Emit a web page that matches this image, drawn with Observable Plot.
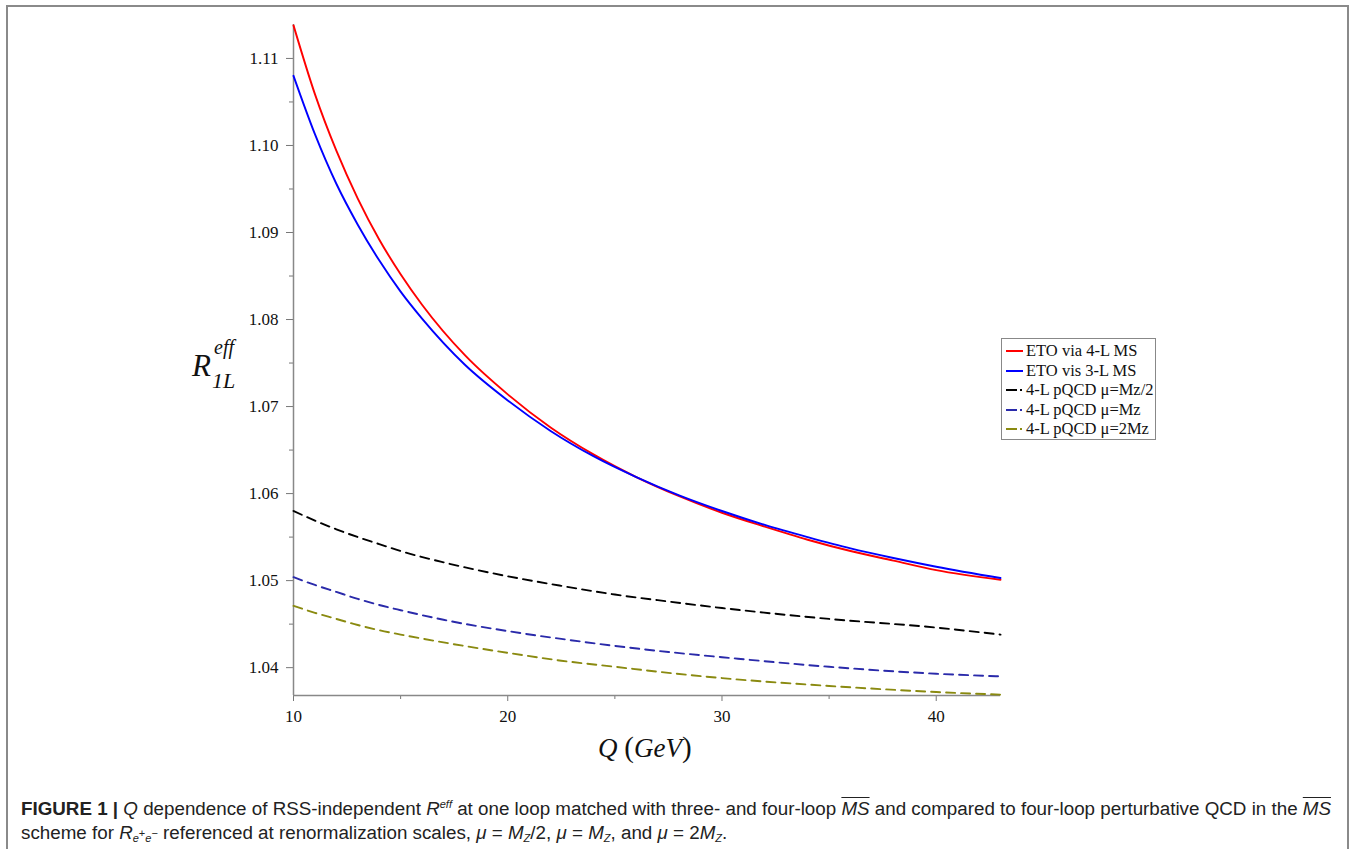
<!DOCTYPE html>
<html>
<head>
<meta charset="utf-8">
<script src="https://cdn.jsdelivr.net/npm/d3@7"></script>
<script src="https://cdn.jsdelivr.net/npm/@observablehq/plot@0.6"></script>
<style>
  html, body { margin: 0; padding: 0; background: #fff; }
  #page { position: relative; width: 1354px; height: 849px; overflow: hidden; background: #fff; }
  #frame { position: absolute; left: 6px; top: 5px; width: 1343px; height: 870px; border: 2px solid #8a8a8a; box-sizing: border-box; }
  #chart { position: absolute; left: 0; top: 0; }
  .serif { font-family: "Liberation Serif", "DejaVu Serif", serif; color: #111; }
  #ytitle { position: absolute; left: 192px; top: 350px; font-size: 31px; font-style: italic; line-height: 1; }
  #ytitle .sup { position: absolute; left: 22px; top: -13px; font-size: 20px; }
  #ytitle .sub { position: absolute; left: 20px; top: 20px; font-size: 22px; }
  #xtitle { position: absolute; left: 598px; top: 731px; font-size: 27px; white-space: nowrap; }
  #legend { position: absolute; left: 1001px; top: 338px; width: 155px; height: 102px; border: 1.5px solid #888; box-sizing: border-box; font-size: 16.5px; }
  #legend .row { position: absolute; left: 3px; height: 18px; white-space: nowrap; }
  #legend svg { position: absolute; left: 0; top: 0; }
  #legend span { position: absolute; left: 21px; top: 0px; line-height: 18px; }
  #caption { position: absolute; left: 21px; top: 797px; font-family: "Liberation Sans", Arial, sans-serif; font-size: 18.8px; line-height: 24px; color: #222; white-space: nowrap; }
  .ov { text-decoration: overline; }
  #caption sub, #caption sup { font-size: 11px; line-height: 0; }
  #caption sub { vertical-align: -3px; }
</style>
</head>
<body>
<div id="page">
  <div id="frame"></div>
  <div id="chart"></div>
  <div id="ytitle" class="serif">R<span class="sup">eff</span><span class="sub">1L</span></div>
  <div id="xtitle" class="serif"><i>Q</i> <span style="font-size:29px">(</span><i>GeV</i><span style="font-size:29px">)</span></div>
  <div id="legend" class="serif"></div>
  <div id="caption"><b>FIGURE 1 |</b> <i>Q</i> dependence of RSS-independent <i>R</i><sup><i>eff</i></sup> at one loop matched with three- and four-loop <i class="ov">MS</i> and compared to four-loop perturbative QCD in the <i class="ov">MS</i><br>scheme for <i>R</i><sub><i>e</i><sup>+</sup><i>e</i><sup>−</sup></sub> referenced at renormalization scales, <i>μ</i> = <i>M</i><sub><i>Z</i></sub>/2, <i>μ</i> = <i>M</i><sub><i>Z</i></sub>, and <i>μ</i> = 2<i>M</i><sub><i>Z</i></sub>.</div>
</div>
<script>
// ---- data ----
const qEto = [10, 11, 12, 13, 14, 15, 16, 18, 20, 22, 24, 26, 28, 30, 32, 34, 36, 38, 40, 43];
const etoVia4L = [1.1138, 1.1059, 1.0994, 1.0939, 1.0892, 1.0852, 1.0817, 1.0759, 1.0714, 1.0676, 1.0645, 1.0619, 1.0597, 1.0578, 1.0562, 1.0547, 1.0534, 1.0523, 1.0512, 1.0501];
const etoVis3L = [1.1080, 1.1013, 1.0956, 1.0909, 1.0868, 1.0832, 1.0801, 1.0748, 1.0707, 1.0672, 1.0643, 1.0619, 1.0598, 1.0580, 1.0564, 1.0550, 1.0537, 1.0526, 1.0516, 1.0503];
const qPqcd = [10, 11, 12, 13, 14, 15, 17, 20, 22.5, 25, 27.5, 30, 35, 40, 43];
const pqcdHalfMz = [1.0580, 1.0569, 1.0559, 1.0550, 1.0542, 1.0534, 1.0521, 1.0505, 1.0494, 1.0484, 1.0476, 1.04685, 1.0456, 1.0446, 1.0438];
const pqcdMz     = [1.0504, 1.0495, 1.0487, 1.0479, 1.0472, 1.0466, 1.0455, 1.0442, 1.0433, 1.0425, 1.0418, 1.0412, 1.0401, 1.0393, 1.0390];
const pqcd2Mz    = [1.0471, 1.0463, 1.0456, 1.0449, 1.0443, 1.0438, 1.0429, 1.0417, 1.0408, 1.0401, 1.0394, 1.0388, 1.0379, 1.0372, 1.0369];
const seriesNames = ["ETO via 4-L MS", "ETO vis 3-L MS", "4-L pQCD μ=Mz/2", "4-L pQCD μ=Mz", "4-L pQCD μ=2Mz"];
const seriesColors = ["#ff0000", "#0000ff", "#000000", "#2a2aaa", "#8a8a10"];
const seriesDashed = [false, false, true, true, true];
const xMajor = [10, 20, 30, 40];
const xMinor = [15, 25, 35];
const yMajor = [1.04, 1.05, 1.06, 1.07, 1.08, 1.09, 1.10, 1.11];
const yMinor = [1.045, 1.055, 1.065, 1.075, 1.085, 1.095, 1.105];
const xDomain = [10, 43];
const yDomain = [1.0368, 1.1139];

const seriesData = [
  qEto.map((q, i) => ({q, v: etoVia4L[i]})),
  qEto.map((q, i) => ({q, v: etoVis3L[i]})),
  qPqcd.map((q, i) => ({q, v: pqcdHalfMz[i]})),
  qPqcd.map((q, i) => ({q, v: pqcdMz[i]})),
  qPqcd.map((q, i) => ({q, v: pqcd2Mz[i]}))
];

const lineMarks = seriesData.map((d, i) => Plot.line(d, {
  x: "q", y: "v", curve: "monotone-x",
  stroke: seriesColors[i], strokeWidth: 1.9,
  strokeDasharray: seriesDashed[i] ? "9,6" : null
}));

const chart = Plot.plot({
  width: 1354,
  height: 770,
  marginLeft: 293,
  marginRight: 354,
  marginTop: 24,
  marginBottom: 75,
  style: { fontFamily: "Liberation Serif, serif", fontSize: "17px", color: "#111", background: "transparent" },
  x: { domain: xDomain },
  y: { domain: yDomain },
  marks: [
    Plot.axisY({ ticks: yMajor, tickSize: 7, tickPadding: 8, tickFormat: d => d.toFixed(2), label: null, stroke: "#777", fill: "#111", fontSize: 17 }),
    Plot.axisY({ ticks: yMinor, tickSize: 4, tickFormat: () => "", label: null, stroke: "#777" }),
    Plot.axisX({ ticks: xMajor, tickSize: 6, tickPadding: 8, tickFormat: d => String(d), label: null, stroke: "#777", fill: "#111", fontSize: 17 }),
    Plot.axisX({ ticks: xMinor, tickSize: 4, tickFormat: () => "", label: null, stroke: "#777" }),
    Plot.ruleX([xDomain[0]], { stroke: "#888", strokeWidth: 1.5 }),
    Plot.ruleY([yDomain[0]], { stroke: "#888", strokeWidth: 1.5 }),
    ...lineMarks
  ]
});
document.getElementById("chart").appendChild(chart);

// legend
const legend = document.getElementById("legend");
seriesNames.forEach((name, i) => {
  const row = document.createElement("div");
  row.className = "row";
  row.style.top = (3 + i * 19.6) + "px";
  const sample = seriesDashed[i]
    ? `<line x1="1" x2="12" y1="9" y2="9" stroke="${seriesColors[i]}" stroke-width="2"/><line x1="15" x2="17" y1="9" y2="9" stroke="${seriesColors[i]}" stroke-width="2"/>`
    : `<line x1="1" x2="18" y1="9" y2="9" stroke="${seriesColors[i]}" stroke-width="2"/>`;
  row.innerHTML = `<svg width="20" height="18">${sample}</svg><span>${name}</span>`;
  legend.appendChild(row);
});
</script>
</body>
</html>
